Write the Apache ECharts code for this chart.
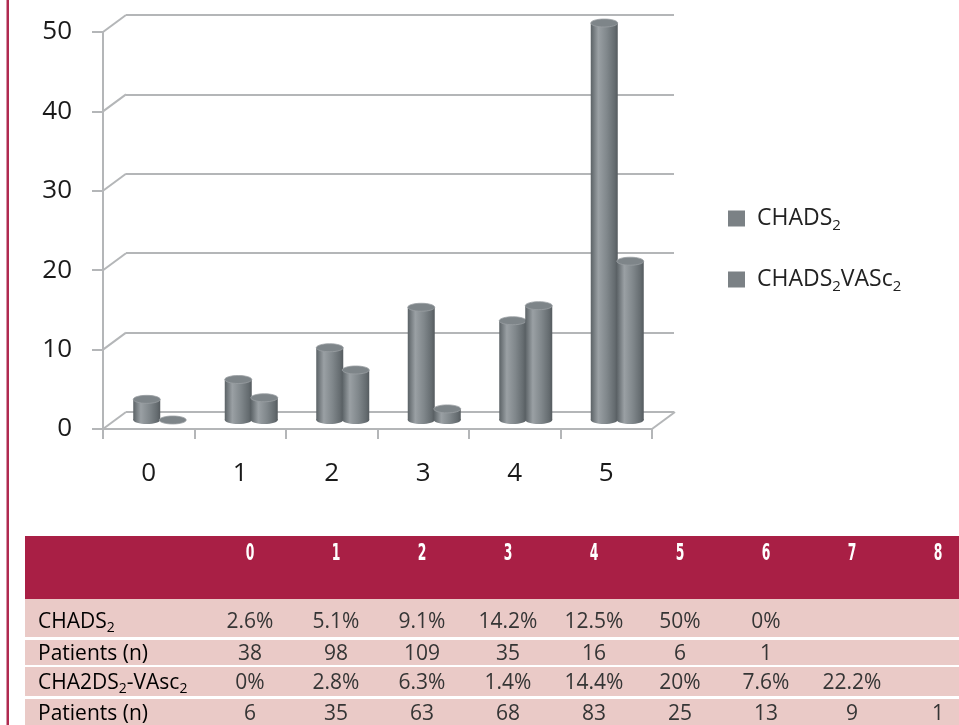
<!DOCTYPE html>
<html><head><meta charset="utf-8">
<script src="https://cdn.jsdelivr.net/npm/echarts@6/dist/echarts.min.js"></script>
<style>html,body{margin:0;padding:0;background:#fff}#c{width:959px;height:725px}</style>
</head><body><div id="c"></div>
<script>
// ---------- data ----------
const categories = ['0', '1', '2', '3', '4', '5'];
const chadsValues = [2.6, 5.1, 9.1, 14.2, 12.5, 50];
const vascValues = [0, 2.8, 6.3, 1.4, 14.4, 20];
const yTicks = [0, 10, 20, 30, 40, 50];
const seriesNames = ['CHADS2', 'CHADS2VASc2'];

const tableColumns = ['0', '1', '2', '3', '4', '5', '6', '7', '8'];
const chadsPct = ['2.6%', '5.1%', '9.1%', '14.2%', '12.5%', '50%', '0%', '', ''];
const chadsPatients = ['38', '98', '109', '35', '16', '6', '1', '', ''];
const vascPct = ['0%', '2.8%', '6.3%', '1.4%', '14.4%', '20%', '7.6%', '22.2%', ''];
const vascPatients = ['6', '35', '63', '68', '83', '25', '13', '9', '1'];
const rowLabels = ['{m|CHADS}{s|2}', '{m|Patients (n)}', '{m|CHA2DS}{s|2}{m|-VAsc}{s|2}', '{m|Patients (n)}'];
const rowValues = [chadsPct, chadsPatients, vascPct, vascPatients];

// ---------- layout / style ----------
const GRID_COLOR = '#b4b6b8';
const DEPTH = { dx: 23, dy: -17 };
const BAR = { w: 27, offsets: [-2, 24], lift: 9, ry: 4 };
const FONT = '"Open Sans", "Noto Sans", sans-serif';
const TABLE = {
  left: 25, right: 959, headerTop: 536, headerBottom: 599,
  headerY: 554, colX0: 250, colStep: 86, labelX: 38,
  rows: [{ top: 599, h: 38, cy: 622 }, { top: 640, h: 25, cy: 654 }, { top: 667, h: 29, cy: 683 }, { top: 699, h: 26, cy: 714 }]
};

const chart = echarts.init(document.getElementById('c'), null, { renderer: 'canvas' });

function cylinder(k) {
  return function (params, api) {
    const i = api.value(0), v = api.value(1);
    const base = api.coord([i, 0]), top = api.coord([i, v]);
    const cx = base[0] + BAR.offsets[k];
    const by = base[1] - BAR.lift, ty = top[1] - BAR.lift;
    const rx = BAR.w / 2;
    const grad = new echarts.graphic.LinearGradient(0, 0, 1, 0, [
      { offset: 0, color: '#5b6266' },
      { offset: 0.28, color: '#9aa0a4' },
      { offset: 0.6, color: '#80878b' },
      { offset: 0.88, color: '#656c70' },
      { offset: 1, color: '#555b5f' }
    ]);
    const children = [];
    if (by - ty > 0.5) {
      children.push({ type: 'ellipse', shape: { cx: cx, cy: by, rx: rx, ry: BAR.ry }, style: { fill: grad } });
      children.push({ type: 'rect', shape: { x: cx - rx, y: ty, width: BAR.w, height: by - ty }, style: { fill: grad } });
    }
    children.push({ type: 'ellipse', shape: { cx: cx, cy: ty, rx: rx, ry: BAR.ry },
      style: { fill: '#7e8589', stroke: '#9aa0a3', lineWidth: 0.8 } });
    return { type: 'group', children: children };
  };
}

function tickDiagonal(params, api) {
  const cs = params.coordSys;
  const y = api.coord([0, api.value(1)])[1];
  return { type: 'line', shape: { x1: cs.x, y1: y, x2: cs.x + DEPTH.dx, y2: y + DEPTH.dy },
    style: { stroke: GRID_COLOR, lineWidth: 2 } };
}
function floorRight(params, api) {
  const cs = params.coordSys;
  const y = api.coord([api.value(0), 0])[1];
  const x = cs.x + cs.width;
  return { type: 'line', shape: { x1: x, y1: y, x2: x + DEPTH.dx, y2: y + DEPTH.dy },
    style: { stroke: GRID_COLOR, lineWidth: 2 } };
}

// ---------- table graphics ----------
const graphics = [];
graphics.push({ type: 'rect', shape: { x: 6.5, y: 0, width: 2.5, height: 725 }, style: { fill: '#b02a50' } });
graphics.push({ type: 'rect', shape: { x: TABLE.left, y: TABLE.headerTop, width: TABLE.right - TABLE.left, height: TABLE.headerBottom - TABLE.headerTop }, style: { fill: '#a91f45' } });
TABLE.rows.forEach(function (r) {
  graphics.push({ type: 'rect', shape: { x: TABLE.left, y: r.top, width: TABLE.right - TABLE.left, height: r.h }, style: { fill: '#eacac7' } });
});
tableColumns.forEach(function (c, j) {
  graphics.push({ type: 'text', x: TABLE.colX0 + j * TABLE.colStep, y: TABLE.headerY, scaleX: 0.6,
    style: { text: c, fill: '#ffffff', font: 'bold 23px "Liberation Sans Narrow", "DejaVu Sans Condensed", "Roboto", sans-serif',
      align: 'center', verticalAlign: 'middle', textAlign: 'center', textVerticalAlign: 'middle' } });
});
const bodyRich = {
  m: { fontSize: 21, fontFamily: FONT, color: '#353535', lineHeight: 24 },
  s: { fontSize: 14, fontFamily: FONT, color: '#353535', lineHeight: 24, padding: [13, 0, 0, 0] }
};
TABLE.rows.forEach(function (r, ri) {
  graphics.push({ type: 'text', x: TABLE.labelX, y: r.cy,
    style: { text: rowLabels[ri], rich: bodyRich, align: 'left', verticalAlign: 'middle', textAlign: 'left', textVerticalAlign: 'middle' } });
  rowValues[ri].forEach(function (val, j) {
    if (!val) return;
    graphics.push({ type: 'text', x: TABLE.colX0 + j * TABLE.colStep, y: r.cy,
      style: { text: val, fill: '#353535', font: '21px ' + FONT, align: 'center', verticalAlign: 'middle', textAlign: 'center', textVerticalAlign: 'middle' } });
  });
});

const option = {
  animation: false,
  backgroundColor: '#ffffff',
  grid: [
    { left: 126, top: 15, width: 548, height: 397 },
    { left: 103, top: 32, width: 549, height: 397 }
  ],
  xAxis: [
    { gridIndex: 0, type: 'category', data: categories, show: false },
    { gridIndex: 1, type: 'category', data: categories,
      axisLine: { lineStyle: { color: GRID_COLOR, width: 2 } },
      axisTick: { show: true, length: 10, lineStyle: { color: GRID_COLOR, width: 2 } },
      axisLabel: { fontSize: 26, color: '#1a1a1a', margin: 32, fontFamily: FONT },
      splitLine: { show: false } }
  ],
  yAxis: [
    { gridIndex: 0, type: 'value', min: 0, max: 50, interval: 10,
      axisLine: { show: false }, axisTick: { show: false }, axisLabel: { show: false },
      splitLine: { show: true, lineStyle: { color: GRID_COLOR, width: 2 } } },
    { gridIndex: 1, type: 'value', min: 0, max: 50, interval: 10,
      axisLine: { show: true, lineStyle: { color: GRID_COLOR, width: 2 } },
      axisTick: { show: true, length: 11, lineStyle: { color: GRID_COLOR, width: 2 } },
      axisLabel: { fontSize: 26, color: '#1a1a1a', margin: 31, fontFamily: FONT },
      splitLine: { show: false } }
  ],
  legend: {
    data: seriesNames, orient: 'vertical', left: 728, top: 204, padding: 0,
    itemWidth: 17, itemHeight: 16, itemGap: 32, icon: 'rect', selectedMode: false,
    formatter: function (n) { return n === 'CHADS2' ? '{m|CHADS}{s|2}' : '{m|CHADS}{s|2}{m|VASc}{s|2}'; },
    textStyle: {
      padding: [0, 0, 0, 7],
      rich: {
        m: { fontSize: 23, lineHeight: 24, color: '#222', fontFamily: FONT },
        s: { fontSize: 15, lineHeight: 24, color: '#222', fontFamily: FONT, padding: [14, 0, 0, 0] }
      }
    }
  },
  series: [
    { type: 'custom', name: 'diag', xAxisIndex: 1, yAxisIndex: 1, silent: true, z: 1,
      data: yTicks.map(function (v) { return [0, v]; }), renderItem: tickDiagonal },
    { type: 'custom', name: 'floor', xAxisIndex: 1, yAxisIndex: 1, silent: true, z: 1,
      data: [[categories.length - 1, 0]], renderItem: floorRight },
    { type: 'custom', name: seriesNames[0], xAxisIndex: 1, yAxisIndex: 1, z: 3,
      itemStyle: { color: '#7b8185' },
      data: chadsValues.map(function (v, i) { return [i, v]; }), renderItem: cylinder(0) },
    { type: 'custom', name: seriesNames[1], xAxisIndex: 1, yAxisIndex: 1, z: 4,
      itemStyle: { color: '#7b8185' },
      data: vascValues.map(function (v, i) { return [i, v]; }), renderItem: cylinder(1) }
  ],
  graphic: { elements: graphics }
};
chart.setOption(option);
</script></body></html>
